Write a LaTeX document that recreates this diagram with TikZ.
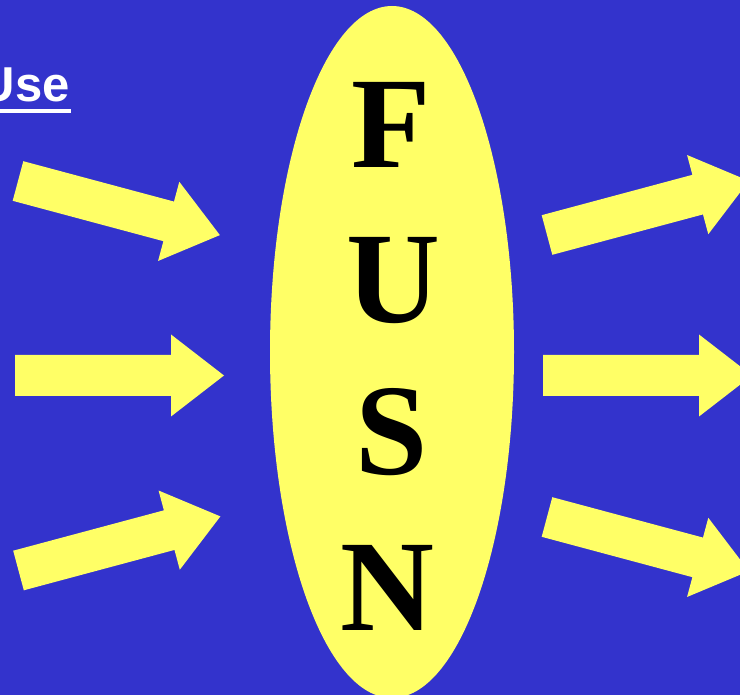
\documentclass[tikz,border=0pt]{standalone}
\usepackage{fontspec}
\setmainfont{Liberation Serif}
\newfontfamily\arialfont{Liberation Sans}
\definecolor{bgblue}{HTML}{3333CC}
\definecolor{fyellow}{HTML}{FFFF66}
\tikzset{
  blockarrow/.style={fill=fyellow, draw=none},
  bigletter/.style={anchor=base, inner sep=0pt, text=black, font=\fontsize{130}{130}\selectfont\bfseries},
}
\newcommand{\myarrow}[3]{%
  \path[blockarrow, shift={(#1,#2)}, rotate=#3]
    (0,-20.5) -- (156,-20.5) -- (156,-41) -- (209,0) -- (156,41) -- (156,20.5) -- (0,20.5) -- cycle;}
\begin{document}
\begin{tikzpicture}[x=1pt,y=-1pt]
\useasboundingbox (0,0) rectangle (740,695);
\clip (0,0) rectangle (740,695);
\fill[bgblue] (0,0) rectangle (740,695);
% ellipse
\fill[fyellow] (392,352) ellipse [x radius=122pt, y radius=346pt];
% letters
\node[bigletter] (f) at (391,168) {F};
\node[bigletter] (u) at (393,323) {U};
\node[bigletter] (s) at (392,475) {S};
\node[bigletter] (n) at (387,630) {N};
% left arrows
\myarrow{18}{181}{-15}
\myarrow{15}{375.5}{0}
\myarrow{18.5}{570.5}{15}
% right arrows
\myarrow{547}{235}{15}
\myarrow{543}{375.5}{0}
\myarrow{547}{517}{-15}
% Use
\node[anchor=base east, inner sep=0pt, text=white, font=\arialfont\fontsize{49}{49}\selectfont\bfseries] (use) at (70,102) {Use};
\fill[white] ([yshift=-7pt]use.base west) rectangle ([yshift=-11pt,xshift=1pt]use.base east);
\end{tikzpicture}
\end{document}
